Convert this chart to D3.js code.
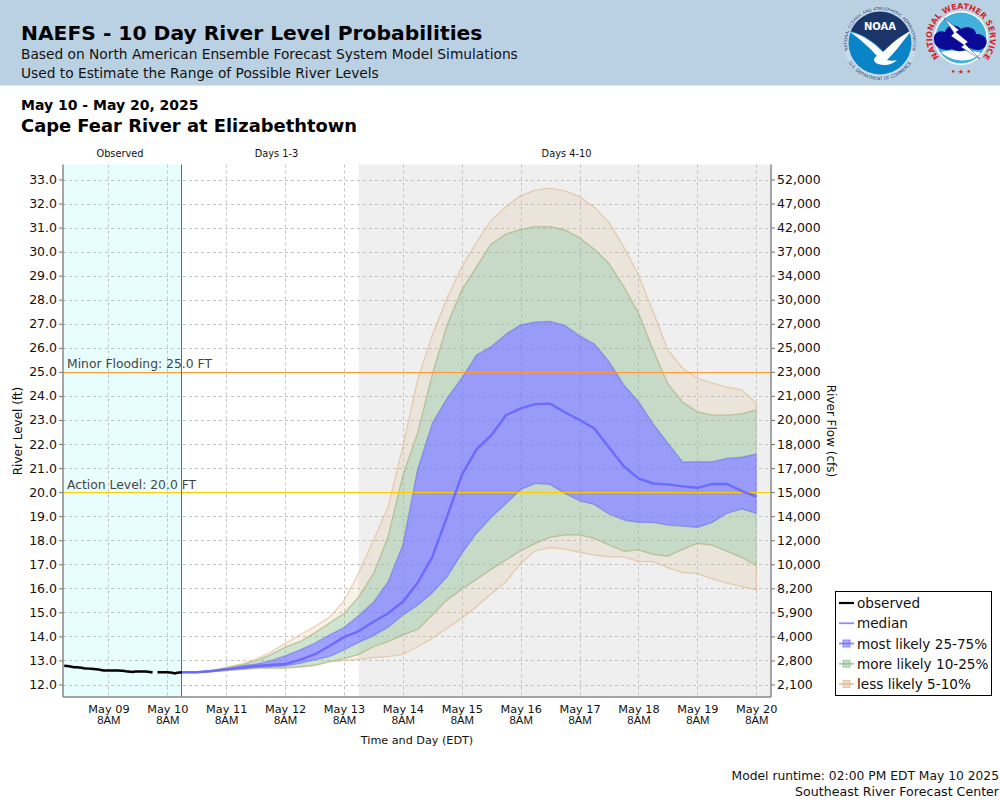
<!DOCTYPE html>
<html>
<head>
<meta charset="utf-8">
<title>NAEFS - 10 Day River Level Probabilities</title>
<script src="https://cdn.jsdelivr.net/npm/d3@7"></script>
<style>
  html, body { margin: 0; padding: 0; background: #fff; }
  svg { display: block; font-family: "DejaVu Sans", sans-serif; }
</style>
</head>
<body>
<div id="chart"></div>
<script>
// river level (ft), every 6 hours from May 10 2PM EDT
const q95 = [12.51,12.52,12.58,12.72,12.85,13.05,13.34,13.71,14.06,14.40,14.79,15.48,16.65,18.00,19.40,21.90,24.66,26.53,28.07,29.36,30.40,31.30,31.87,32.33,32.56,32.64,32.53,32.28,31.85,31.22,30.20,29.03,27.50,25.90,25.15,24.74,24.53,24.37,24.25,23.72];
const q90 = [12.51,12.52,12.58,12.69,12.81,12.98,13.23,13.55,13.78,14.14,14.55,14.95,15.64,16.60,18.15,20.70,22.45,24.90,26.95,28.40,29.37,30.32,30.73,30.92,31.04,31.04,30.90,30.58,30.10,29.50,28.55,27.44,25.90,24.50,23.75,23.34,23.20,23.20,23.25,23.42];
const q75 = [12.51,12.52,12.58,12.66,12.77,12.85,12.98,13.19,13.43,13.71,14.06,14.37,14.86,15.42,16.27,17.80,20.93,22.86,23.90,24.74,25.70,26.05,26.57,26.95,27.07,27.10,26.93,26.50,26.16,25.42,24.46,23.76,22.83,22.03,21.25,21.26,21.26,21.40,21.45,21.58];
const median = [12.51,12.51,12.56,12.63,12.70,12.77,12.81,12.85,13.02,13.25,13.60,13.97,14.22,14.61,14.96,15.44,16.23,17.31,18.98,20.71,21.78,22.37,23.20,23.48,23.66,23.68,23.32,23.00,22.65,21.86,21.08,20.57,20.36,20.32,20.24,20.18,20.34,20.34,20.05,19.81];
const q25 = [12.50,12.50,12.54,12.60,12.64,12.71,12.74,12.77,12.88,13.02,13.16,13.44,13.75,14.03,14.38,14.89,15.30,15.82,16.48,17.45,18.29,18.95,19.53,20.11,20.36,20.32,19.95,19.64,19.49,19.09,18.84,18.74,18.74,18.63,18.59,18.53,18.74,19.12,19.30,19.12];
const q10 = [12.50,12.50,12.53,12.59,12.63,12.68,12.69,12.68,12.74,12.80,12.95,13.08,13.25,13.57,13.78,14.06,14.29,14.89,15.52,15.96,16.37,16.79,17.18,17.56,17.87,18.12,18.22,18.22,18.08,17.80,17.54,17.60,17.41,17.34,17.62,17.87,17.80,17.55,17.29,16.94];
const q05 = [12.50,12.50,12.53,12.58,12.62,12.66,12.67,12.68,12.72,12.79,12.94,12.99,13.05,13.12,13.16,13.25,13.57,13.92,14.34,14.75,15.24,15.76,16.27,17.04,17.56,17.69,17.63,17.50,17.38,17.31,17.31,17.12,17.11,16.86,16.65,16.61,16.40,16.22,16.07,15.94];

// hourly gauge readings from May 8 2PM EDT, null = missing report
const observed = [12.78,12.77,12.76,12.74,12.72,12.72,12.71,12.70,12.68,12.67,12.66,12.65,12.64,12.63,12.62,12.60,12.58,12.58,12.58,12.58,12.58,12.58,12.58,12.57,12.57,12.55,12.54,12.53,12.52,12.54,12.54,12.54,12.54,12.54,12.53,12.52,12.50,null,12.51,12.51,12.51,12.51,12.51,12.50,12.49,12.46,12.49,12.50,12.51];

const levelTicks = d3.range(12, 34);
const flowLabels = ["2,100","2,800","4,000","5,900","8,200","10,000","12,000","14,000","15,000","17,000","18,000","20,000","21,000","23,000","25,000","27,000","30,000","34,000","37,000","42,000","47,000","52,000"];
const dayLabels = ["May 09","May 10","May 11","May 12","May 13","May 14","May 15","May 16","May 17","May 18","May 19","May 20"];
const dayTicks = d3.range(9, 21).map(d => new Date(2025, 4, d, 8));
const legendLabels = ["observed","median","most likely 25-75%","more likely 10-25%","less likely 5-10%"];

const width = 1000, height = 800;
const plot = { left: 63, right: 771, top: 164.5, bottom: 697 };
const colors = {
    header: "#BAD1E4", obs: "#E8FDFD", gray: "#EFEFEF",
    blue: "rgb(102,102,255)", green: "rgb(143,188,143)", tan: "rgb(222,184,135)",
    minor: "#FF9933", action: "#FFCC00", now: "#D63A3A"
};

const svg = d3.select("#chart").append("svg")
    .attr("width", width).attr("height", height)
    .attr("viewBox", [0, 0, width, height]);

const x = d3.scaleTime()
    .domain([new Date(2025, 4, 8, 13, 30), new Date(2025, 4, 20, 14, 0)])
    .range([plot.left, plot.right]);
const y = d3.scaleLinear()
    .domain([12, 33])
    .range([684.5, 179.5]);

const nowTime = new Date(2025, 4, 10, 14);
const grayStart = new Date(2025, 4, 13, 14);
const fcTime = i => new Date(2025, 4, 10, 14 + i * 6);
const obsTime = i => new Date(2025, 4, 8, 14 + i);
const snap = v => Math.round(v) + 0.5;

// header band
svg.append("rect").attr("width", width).attr("height", 85.5).attr("fill", colors.header);
svg.append("text").attr("x", 21).attr("y", 40)
    .style("font-size", "20.25px").style("font-weight", "bold")
    .text("NAEFS - 10 Day River Level Probabilities");
svg.append("text").attr("x", 21).attr("y", 59).style("font-size", "13.75px").attr("fill", "#111")
    .text("Based on North American Ensemble Forecast System Model Simulations");
svg.append("text").attr("x", 21).attr("y", 78).style("font-size", "13.75px").attr("fill", "#111")
    .text("Used to Estimate the Range of Possible River Levels");

drawNoaaLogo(svg.append("g").attr("transform", "translate(880,43)"));
drawNwsLogo(svg.append("g").attr("transform", "translate(961,38)"));

svg.append("text").attr("x", 21).attr("y", 110)
    .style("font-size", "14px").style("font-weight", "bold")
    .text("May 10 - May 20, 2025");
svg.append("text").attr("x", 21).attr("y", 132)
    .style("font-size", "17.9px").style("font-weight", "bold")
    .text("Cape Fear River at Elizabethtown");

// section labels above the plot
[["Observed", 120], ["Days 1-3", 276.5], ["Days 4-10", 566.5]].forEach(d => {
    svg.append("text").attr("x", d[1]).attr("y", 157)
        .attr("text-anchor", "middle").style("font-size", "9.8px").attr("fill", "#111")
        .text(d[0]);
});

// plot backgrounds
svg.append("rect").attr("x", plot.left).attr("y", plot.top)
    .attr("width", x(nowTime) - plot.left).attr("height", plot.bottom - plot.top)
    .attr("fill", colors.obs);
svg.append("rect").attr("x", x(grayStart)).attr("y", plot.top)
    .attr("width", plot.right - x(grayStart)).attr("height", plot.bottom - plot.top)
    .attr("fill", colors.gray);

// grid
const grid = svg.append("g").attr("fill", "none").attr("stroke", "#c2c2c2").attr("stroke-dasharray", "3,3");
grid.selectAll(".gx").data(dayTicks).join("line")
    .attr("x1", d => snap(x(d))).attr("x2", d => snap(x(d)))
    .attr("y1", plot.top).attr("y2", plot.bottom);
grid.selectAll(".gy").data(levelTicks).join("line")
    .attr("x1", plot.left).attr("x2", plot.right)
    .attr("y1", d => snap(y(d))).attr("y2", d => snap(y(d)));

// probability bands, each one only between its own two limits
const band = (low, high, color, alpha, edge) => {
    const area = d3.area()
        .x((d, i) => x(fcTime(i)))
        .y0((d, i) => y(low[i]))
        .y1((d, i) => y(high[i]));
    svg.append("path").datum(low)
        .attr("d", area)
        .attr("fill", color).attr("fill-opacity", alpha)
        .attr("stroke", color).attr("stroke-opacity", edge).attr("stroke-width", 1.3)
        .attr("stroke-linejoin", "round");
};
band(q05, q10, colors.tan, 0.2, 0.6);
band(q90, q95, colors.tan, 0.2, 0.6);
band(q10, q25, colors.green, 0.42, 0.4);
band(q75, q90, colors.green, 0.42, 0.4);
band(q25, q75, colors.blue, 0.62, 0.4);

// flood thresholds
svg.append("line").attr("x1", plot.left).attr("x2", plot.right)
    .attr("y1", snap(y(25))).attr("y2", snap(y(25))).attr("stroke", colors.minor).attr("stroke-width", 1);
svg.append("line").attr("x1", plot.left).attr("x2", plot.right)
    .attr("y1", snap(y(20))).attr("y2", snap(y(20))).attr("stroke", colors.action).attr("stroke-width", 1);
svg.append("text").attr("x", 67).attr("y", y(25) - 3.5).style("font-size", "12.35px").attr("fill", "#444")
    .text("Minor Flooding: 25.0 FT");
svg.append("text").attr("x", 67).attr("y", y(20) - 3).style("font-size", "12.35px").attr("fill", "#444")
    .text("Action Level: 20.0 FT");

// current time
svg.append("line").attr("x1", snap(x(nowTime)) - 1).attr("x2", snap(x(nowTime)) - 1)
    .attr("y1", plot.top).attr("y2", plot.bottom)
    .attr("stroke", colors.now).attr("stroke-width", 1);

// median and observed
svg.append("path").datum(median)
    .attr("d", d3.line().x((d, i) => x(fcTime(i))).y(d => y(d)))
    .attr("fill", "none").attr("stroke", colors.blue).attr("stroke-width", 2.4).attr("stroke-opacity", 0.9);
svg.append("path").datum(observed)
    .attr("d", d3.line().defined(d => d !== null).x((d, i) => x(obsTime(i))).y(d => y(d)))
    .attr("fill", "none").attr("stroke", "#000").attr("stroke-width", 2.5);

// axes
const styleAxis = g => {
    g.selectAll("path").attr("stroke", "#888").attr("stroke-width", 1.5);
    g.selectAll("line").attr("stroke", "#777");
    g.selectAll("text").attr("fill", "#111").style("font-family", "'DejaVu Sans', sans-serif");
};

svg.append("g").attr("transform", `translate(${plot.left},0)`)
    .call(d3.axisLeft(y).tickValues(levelTicks).tickFormat(d3.format(".1f")).tickSize(4).tickSizeOuter(0).tickPadding(2))
    .call(g => g.select(".domain").attr("d", `M0,${plot.top}V${plot.bottom}`))
    .call(styleAxis)
    .selectAll("text").style("font-size", "12.5px");

svg.append("g").attr("transform", `translate(${plot.right},0)`)
    .call(d3.axisRight(y).tickValues(levelTicks).tickFormat((d, i) => flowLabels[i]).tickSize(4).tickSizeOuter(0).tickPadding(2))
    .call(g => g.select(".domain").attr("d", `M0,${plot.top}V${plot.bottom}`))
    .call(styleAxis)
    .selectAll("text").style("font-size", "12.5px");

const xAxis = svg.append("g").attr("transform", `translate(0,${plot.bottom})`)
    .call(d3.axisBottom(x).tickValues(dayTicks).tickFormat((d, i) => dayLabels[i]).tickSize(0).tickPadding(8))
    .call(g => g.select(".domain").attr("d", `M${plot.left},0H${plot.right}`))
    .call(styleAxis);
xAxis.selectAll("text").style("font-size", "11.3px");
xAxis.selectAll(".tick").append("text")
    .attr("y", 19).attr("dy", "0.71em").attr("text-anchor", "middle")
    .attr("fill", "#111").style("font-size", "11.3px")
    .text("8AM");

svg.append("text").attr("x", 417).attr("y", 744).attr("text-anchor", "middle")
    .style("font-size", "11.2px").attr("fill", "#111").text("Time and Day (EDT)");
svg.append("text").attr("transform", "translate(22,431) rotate(-90)").attr("text-anchor", "middle")
    .style("font-size", "12px").attr("fill", "#111").text("River Level (ft)");
svg.append("text").attr("transform", "translate(827,431) rotate(90)").attr("text-anchor", "middle")
    .style("font-size", "12px").attr("fill", "#111").text("River Flow (cfs)");

// legend
const legend = svg.append("g");
legend.append("rect").attr("x", 835.5).attr("y", 591.5).attr("width", 156).attr("height", 104)
    .attr("fill", "#fff").attr("stroke", "#000").attr("stroke-width", 1);
const legendColor = ["#000", colors.blue, colors.blue, colors.green, colors.tan];
const legendY = d3.scalePoint().domain(legendLabels).range([603, 684]);
legendLabels.forEach((label, i) => {
    const yy = legendY(label);
    legend.append("line").attr("x1", 839).attr("x2", 854).attr("y1", yy).attr("y2", yy)
        .attr("stroke", legendColor[i]).attr("stroke-width", i === 0 ? 2.2 : 1.8)
        .attr("stroke-opacity", i === 0 ? 1 : 0.75);
    if (i > 1) {
        legend.append("rect").attr("x", 843).attr("y", yy - 3.5).attr("width", 7).attr("height", 7)
            .attr("fill", legendColor[i]).attr("fill-opacity", 0.5)
            .attr("stroke", legendColor[i]).attr("stroke-opacity", 0.7);
    }
    legend.append("text").attr("x", 857).attr("y", yy + 5)
        .style("font-size", "13.6px").attr("fill", "#111").text(label);
});

// footer
svg.append("text").attr("x", 999).attr("y", 780).attr("text-anchor", "end")
    .style("font-size", "12.3px").attr("fill", "#111").text("Model runtime: 02:00 PM EDT May 10 2025");
svg.append("text").attr("x", 999).attr("y", 796).attr("text-anchor", "end")
    .style("font-size", "12.6px").attr("fill", "#111").text("Southeast River Forecast Center");

function ringText(g, id, r, start, end, text, size, color, bold) {
    // arc runs between two angles (degrees from 12 o'clock)
    const pt = a => [r * Math.sin(a * Math.PI / 180), -r * Math.cos(a * Math.PI / 180)];
    const [x0, y0] = pt(start), [x1, y1] = pt(end);
    const sweep = end > start ? 1 : 0;
    const large = Math.abs(end - start) > 180 ? 1 : 0;
    g.append("path").attr("id", id).attr("fill", "none")
        .attr("d", `M${x0},${y0}A${r},${r} 0 ${large} ${sweep} ${x1},${y1}`);
    g.append("text").style("font-size", size + "px").style("font-weight", bold ? "bold" : "normal")
        .attr("fill", color)
        .append("textPath").attr("href", "#" + id).attr("startOffset", "50%").attr("text-anchor", "middle")
        .text(text);
}

function drawNoaaLogo(g) {
    g.append("circle").attr("r", 36.5).attr("fill", "#D5E1EC").attr("opacity", 0.55);
    g.append("circle").attr("r", 31.5).attr("fill", "#0A84C8");
    g.append("path").attr("fill", "#1C3568")
        .attr("d", "M-29,-12 A31.5,31.5 0 0 1 29,-12 C20,-6 12,1 4,9 C-2,2 -14,-8 -29,-12Z");
    g.append("path").attr("fill", "#fff")
        .attr("d", "M-30,-11 C-18,-9 -6,0 3,9 C12,0 20,-7 31,-12 C22,0 14,10 7,17 C10,18 14,18 17,17 C12,22 5,23 -2,21 C-8,19 -6,14 -3,13 C-10,5 -20,-4 -30,-11Z");
    g.append("text").attr("text-anchor", "middle").attr("y", -13)
        .style("font-size", "10px").style("font-weight", "bold").attr("fill", "#fff").text("NOAA");
    ringText(g, "noaa-top", 33, -118, 118, "NATIONAL OCEANIC AND ATMOSPHERIC ADMINISTRATION", 4.1, "#1C3568");
    ringText(g, "noaa-bottom", 37, 245, 115, "U.S. DEPARTMENT OF COMMERCE", 4.4, "#1C3568");
}

function drawNwsLogo(g) {
    g.append("circle").attr("r", 27).attr("fill", "#fff");
    g.append("circle").attr("r", 25.5).attr("fill", "#41B0DC");
    g.append("path").attr("fill", "#fff")
        .attr("d", "M-20,14 C-10,24 10,26 20,15 C10,12 -10,12 -20,14Z");
    g.append("path").attr("fill", "#0A0A96")
        .attr("d", "M-27,2 C-28,-6 -20,-8 -16,-6 C-14,-14 -4,-14 0,-9 C6,-13 15,-10 15,-4 C22,-5 28,1 25,7 C23,13 14,13 9,10 C3,14 -5,14 -9,11 C-16,14 -27,10 -27,2Z");
    g.append("path").attr("fill", "#fff").attr("stroke", "#0A0A96").attr("stroke-width", 0.4)
        .attr("d", "M-17,-20 L-2,-8 L-5,-6 L7,4 L4,6 L19,21 L0,9 L3,7 L-10,-2 L-7,-5Z");
    ringText(g, "nws-top", 29, -150, 150, "NATIONAL WEATHER SERVICE", 8, "#D8232A", true);
    g.append("text").attr("text-anchor", "middle").attr("y", 36)
        .style("font-size", "7px").style("font-weight", "bold").attr("fill", "#D8232A").text("\u2022 \u2605 \u2022");
}
</script>
</body>
</html>
